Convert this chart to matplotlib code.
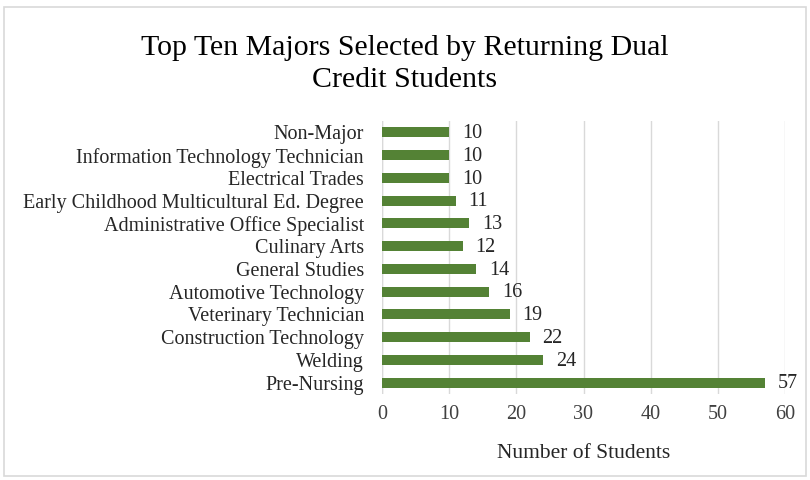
import matplotlib.pyplot as plt
from matplotlib.patches import Rectangle

plt.rcParams['font.family'] = ['Liberation Serif', 'DejaVu Serif']

# bottom to top, as drawn
majors = ["Pre-Nursing", "Welding", "Construction Technology", "Veterinary Technician",
          "Automotive Technology", "General Studies", "Culinary Arts",
          "Administrative Office Specialist", "Early Childhood Multicultural Ed. Degree",
          "Electrical Trades", "Information Technology Technician", "Non-Major"]
students = [57, 24, 22, 19, 16, 14, 12, 13, 11, 10, 10, 10]
x_ticks = [0, 10, 20, 30, 40, 50, 60]

fig = plt.figure(figsize=(8.1, 4.8), dpi=100)
fig.patches.append(Rectangle((4 / 810, 4 / 480), 802 / 810, 469 / 480, transform=fig.transFigure,
                             fill=False, edgecolor="#d9d9d9", linewidth=1.2))

ax = fig.add_axes([382 / 810, 1 - 394 / 480, 403 / 810, 273 / 480])
pos = list(range(len(majors)))
ax.barh(pos, students, height=0.45, color="#548235", zorder=3)

for p, v in zip(pos, students):
    ax.text(v + 1.9, p - 0.05, str(v), va="center", ha="left", fontsize=14.5, color="#262626")

ax.set_xlim(0, 60)
ax.set_ylim(-0.5, len(majors) - 0.5)
ax.set_xticks(x_ticks)
ax.set_yticks(pos)
ax.set_yticklabels(majors, fontsize=14.5, color="#262626")
ax.tick_params(axis="x", labelsize=14.5, colors="#404040", length=0, pad=8)
ax.tick_params(axis="y", length=0, pad=13)
ax.xaxis.grid(True, color="#d9d9d9", linewidth=1, zorder=0)
for s in ax.spines.values():
    s.set_visible(False)
ax.axvline(0, color="#d9d9d9", linewidth=1, zorder=1)

ax.set_xlabel("Number of Students", fontsize=15.5, color="#262626", labelpad=14)
fig.text(0.5, 1 - 64 / 480, "Top Ten Majors Selected by Returning Dual\nCredit Students",
         ha="center", va="center", fontsize=21.5, color="#000000", linespacing=1.3)

fig.savefig("out.png", dpi=100)
